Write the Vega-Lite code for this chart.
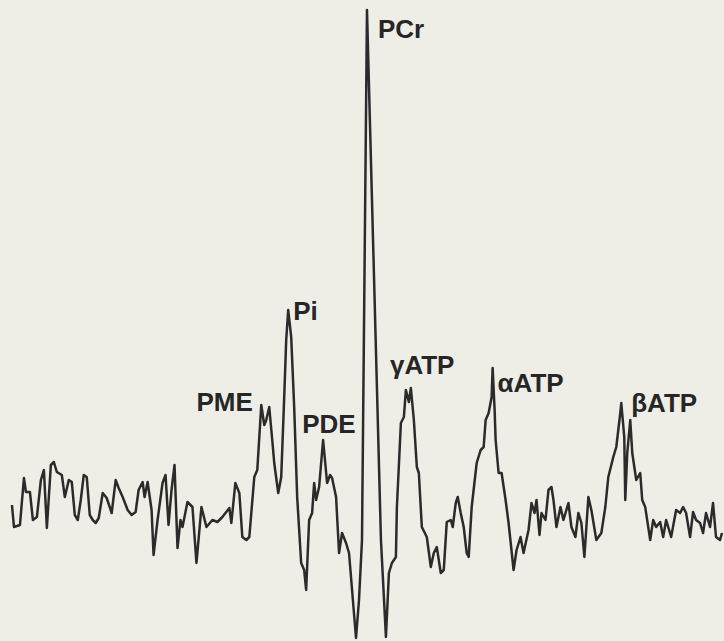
{
  "$schema": "https://vega.github.io/schema/vega-lite/v6.json",
  "width": 724,
  "height": 641,
  "autosize": {"type": "fit", "contains": "padding"},
  "padding": 0,
  "background": "#efeee6",
  "config": {"view": {"stroke": null}},
  "datasets": {
    "spectrum": [
      {"point": 12, "signal": 136}, {"point": 14, "signal": 114}, {"point": 20, "signal": 116}, {"point": 24, "signal": 163},
      {"point": 26, "signal": 149}, {"point": 30, "signal": 149}, {"point": 33, "signal": 121}, {"point": 37, "signal": 124},
      {"point": 41, "signal": 161}, {"point": 44, "signal": 171}, {"point": 47, "signal": 113}, {"point": 51, "signal": 176},
      {"point": 54, "signal": 179}, {"point": 57, "signal": 169}, {"point": 62, "signal": 166}, {"point": 65, "signal": 144},
      {"point": 69, "signal": 161}, {"point": 72, "signal": 159}, {"point": 75, "signal": 126}, {"point": 78, "signal": 121},
      {"point": 81, "signal": 141}, {"point": 84, "signal": 166}, {"point": 87, "signal": 164}, {"point": 90, "signal": 126},
      {"point": 93, "signal": 121}, {"point": 96, "signal": 118}, {"point": 99, "signal": 123}, {"point": 103, "signal": 148},
      {"point": 107, "signal": 143}, {"point": 112, "signal": 128}, {"point": 116, "signal": 161}, {"point": 119, "signal": 153},
      {"point": 123, "signal": 144}, {"point": 128, "signal": 131}, {"point": 132, "signal": 126}, {"point": 136, "signal": 129},
      {"point": 139, "signal": 151}, {"point": 143, "signal": 159}, {"point": 145, "signal": 144}, {"point": 148, "signal": 159},
      {"point": 152, "signal": 131}, {"point": 154, "signal": 86}, {"point": 158, "signal": 121}, {"point": 163, "signal": 158},
      {"point": 166, "signal": 166}, {"point": 169, "signal": 116}, {"point": 172, "signal": 151}, {"point": 175, "signal": 176},
      {"point": 178, "signal": 93}, {"point": 181, "signal": 121}, {"point": 183, "signal": 114}, {"point": 188, "signal": 139},
      {"point": 193, "signal": 134}, {"point": 197, "signal": 78}, {"point": 202, "signal": 134}, {"point": 207, "signal": 114},
      {"point": 213, "signal": 121}, {"point": 218, "signal": 119}, {"point": 223, "signal": 124}, {"point": 230, "signal": 133},
      {"point": 232, "signal": 118}, {"point": 236, "signal": 158}, {"point": 240, "signal": 148}, {"point": 243, "signal": 104},
      {"point": 247, "signal": 101}, {"point": 250, "signal": 104}, {"point": 255, "signal": 164}, {"point": 258, "signal": 171},
      {"point": 262, "signal": 236}, {"point": 265, "signal": 216}, {"point": 267, "signal": 221}, {"point": 270, "signal": 234},
      {"point": 273, "signal": 201}, {"point": 275, "signal": 178}, {"point": 279, "signal": 148}, {"point": 282, "signal": 164},
      {"point": 285, "signal": 244}, {"point": 287, "signal": 301}, {"point": 289, "signal": 331}, {"point": 292, "signal": 304},
      {"point": 295, "signal": 234}, {"point": 298, "signal": 144}, {"point": 302, "signal": 78}, {"point": 305, "signal": 71},
      {"point": 307, "signal": 51}, {"point": 310, "signal": 121}, {"point": 313, "signal": 128}, {"point": 315, "signal": 158},
      {"point": 317, "signal": 141}, {"point": 320, "signal": 154}, {"point": 324, "signal": 201}, {"point": 328, "signal": 158},
      {"point": 331, "signal": 166}, {"point": 333, "signal": 163}, {"point": 337, "signal": 144}, {"point": 340, "signal": 88},
      {"point": 343, "signal": 108}, {"point": 347, "signal": 98}, {"point": 350, "signal": 88}, {"point": 357, "signal": 3},
      {"point": 360, "signal": 41}, {"point": 363, "signal": 101}, {"point": 368, "signal": 631}, {"point": 382, "signal": 101},
      {"point": 387, "signal": 4}, {"point": 390, "signal": 68}, {"point": 393, "signal": 78}, {"point": 397, "signal": 84},
      {"point": 398, "signal": 134}, {"point": 402, "signal": 218}, {"point": 405, "signal": 224}, {"point": 407, "signal": 251},
      {"point": 410, "signal": 239}, {"point": 412, "signal": 253}, {"point": 415, "signal": 221}, {"point": 418, "signal": 174},
      {"point": 420, "signal": 168}, {"point": 423, "signal": 114}, {"point": 428, "signal": 104}, {"point": 432, "signal": 74},
      {"point": 435, "signal": 88}, {"point": 438, "signal": 94}, {"point": 442, "signal": 68}, {"point": 445, "signal": 71},
      {"point": 448, "signal": 119}, {"point": 452, "signal": 121}, {"point": 454, "signal": 114}, {"point": 457, "signal": 138},
      {"point": 459, "signal": 144}, {"point": 462, "signal": 128}, {"point": 465, "signal": 114}, {"point": 468, "signal": 88},
      {"point": 470, "signal": 84}, {"point": 473, "signal": 134}, {"point": 478, "signal": 178}, {"point": 482, "signal": 191},
      {"point": 485, "signal": 194}, {"point": 487, "signal": 221}, {"point": 490, "signal": 228}, {"point": 493, "signal": 244},
      {"point": 494, "signal": 273}, {"point": 496, "signal": 231}, {"point": 497, "signal": 201}, {"point": 500, "signal": 168},
      {"point": 503, "signal": 168}, {"point": 507, "signal": 141}, {"point": 510, "signal": 118}, {"point": 515, "signal": 71},
      {"point": 518, "signal": 91}, {"point": 522, "signal": 104}, {"point": 525, "signal": 88}, {"point": 530, "signal": 111},
      {"point": 533, "signal": 138}, {"point": 536, "signal": 128}, {"point": 538, "signal": 141}, {"point": 541, "signal": 106},
      {"point": 543, "signal": 128}, {"point": 547, "signal": 121}, {"point": 550, "signal": 151}, {"point": 553, "signal": 154},
      {"point": 555, "signal": 141}, {"point": 558, "signal": 114}, {"point": 562, "signal": 134}, {"point": 565, "signal": 121},
      {"point": 570, "signal": 138}, {"point": 573, "signal": 114}, {"point": 577, "signal": 104}, {"point": 580, "signal": 128},
      {"point": 583, "signal": 118}, {"point": 586, "signal": 84}, {"point": 590, "signal": 144}, {"point": 593, "signal": 131},
      {"point": 598, "signal": 101}, {"point": 603, "signal": 108}, {"point": 607, "signal": 134}, {"point": 610, "signal": 164},
      {"point": 615, "signal": 184}, {"point": 618, "signal": 194}, {"point": 622, "signal": 228}, {"point": 623, "signal": 238},
      {"point": 626, "signal": 204}, {"point": 627, "signal": 141}, {"point": 629, "signal": 188}, {"point": 632, "signal": 221},
      {"point": 634, "signal": 188}, {"point": 638, "signal": 161}, {"point": 642, "signal": 168}, {"point": 644, "signal": 141},
      {"point": 647, "signal": 134}, {"point": 652, "signal": 101}, {"point": 655, "signal": 121}, {"point": 658, "signal": 114},
      {"point": 662, "signal": 119}, {"point": 665, "signal": 104}, {"point": 668, "signal": 121}, {"point": 673, "signal": 104},
      {"point": 678, "signal": 131}, {"point": 682, "signal": 128}, {"point": 685, "signal": 134}, {"point": 688, "signal": 128},
      {"point": 692, "signal": 104}, {"point": 695, "signal": 129}, {"point": 698, "signal": 121}, {"point": 702, "signal": 118},
      {"point": 705, "signal": 108}, {"point": 708, "signal": 128}, {"point": 712, "signal": 114}, {"point": 715, "signal": 138},
      {"point": 718, "signal": 104}, {"point": 722, "signal": 101}, {"point": 724, "signal": 108}
    ],
    "peaks": [
      {"label": "PCr", "point": 379, "signal": 603},
      {"label": "Pi", "point": 294, "signal": 321},
      {"label": "PME", "point": 197, "signal": 230},
      {"label": "PDE", "point": 303, "signal": 208},
      {"label": "γATP", "point": 391, "signal": 267},
      {"label": "αATP", "point": 499, "signal": 249},
      {"label": "βATP", "point": 633, "signal": 229}
    ]
  },
  "layer": [
    {
      "data": {"name": "spectrum"},
      "mark": {"type": "line", "color": "#2b2b2b", "strokeWidth": 2.5, "strokeJoin": "round"},
      "encoding": {
        "x": {"field": "point", "type": "quantitative", "scale": {"domain": [0, 724], "nice": false, "zero": false}, "axis": null},
        "y": {"field": "signal", "type": "quantitative", "scale": {"domain": [0, 641], "nice": false, "zero": false}, "axis": null}
      }
    },
    {
      "data": {"name": "peaks"},
      "mark": {"type": "text", "align": "left", "baseline": "alphabetic", "font": "Liberation Sans", "fontWeight": "bold", "fontSize": 26, "color": "#262626"},
      "encoding": {
        "x": {"field": "point", "type": "quantitative", "scale": {"domain": [0, 724], "nice": false, "zero": false}, "axis": null},
        "y": {"field": "signal", "type": "quantitative", "scale": {"domain": [0, 641], "nice": false, "zero": false}, "axis": null},
        "text": {"field": "label"}
      }
    }
  ]
}
